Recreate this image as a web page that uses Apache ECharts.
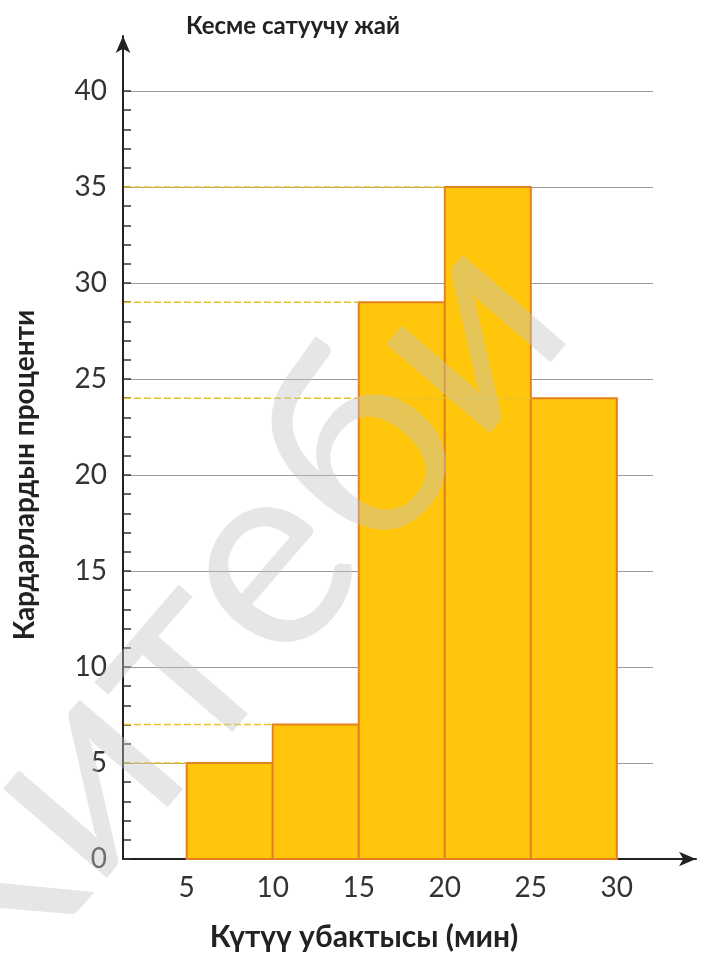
<!DOCTYPE html>
<html>
<head>
<meta charset="utf-8">
<script src="https://cdn.jsdelivr.net/npm/echarts@6/dist/echarts.min.js"></script>
<style>
  html, body { margin: 0; padding: 0; background: #fff; }
  #chart { width: 702px; height: 958px; }
</style>
</head>
<body>
<div id="chart"></div>
<script>
// Waiting-time histogram for a barber shop
const binStart = [5, 10, 15, 20, 25];
const binEnd = [10, 15, 20, 25, 30];
const percents = [5, 7, 29, 35, 24];
const xTickValues = [5, 10, 15, 20, 25, 30];

const titleText = 'Кесме сатуучу жай';
const xName = 'Күтүү убактысы (мин)';
const yName = 'Кардарлардын проценти';
const watermarkText = 'Китеби';

const X_MIN = 1.3;
const X_MAX = 32.1;
const FONT = 'Lato, "Open Sans", "Noto Sans", sans-serif';

const bins = binStart.map((s, i) => [s, binEnd[i], percents[i]]);

const chart = echarts.init(document.getElementById('chart'));

chart.setOption({
  animation: false,
  backgroundColor: '#ffffff',
  title: {
    text: titleText,
    left: 288,
    top: 9,
    textAlign: 'center',
    textStyle: { fontFamily: FONT, fontSize: 24, fontWeight: 'bold', color: '#222' }
  },
  grid: [
    { left: 123, right: 49, top: 91, bottom: 99 },
    { left: 123, right: 6, top: 36, bottom: 99 }
  ],
  xAxis: [
    {
      type: 'value', gridIndex: 0, min: X_MIN, max: X_MAX,
      axisLine: { show: false },
      axisTick: { show: false },
      splitLine: { show: false },
      axisLabel: {
        customValues: xTickValues,
        fontFamily: FONT, fontSize: 28, color: '#333', margin: 15
      },
      name: xName,
      nameLocation: 'middle',
      nameGap: 63,
      nameTextStyle: {
        fontFamily: FONT, fontSize: 30, fontWeight: 'bold', color: '#222',
        padding: [0, 48, 0, 0]
      }
    },
    {
      type: 'value', gridIndex: 1, min: 0, max: 1,
      axisLine: {
        show: true, onZero: false,
        lineStyle: { color: '#222', width: 2 },
        symbol: ['none', 'arrow'], symbolSize: [11, 17]
      },
      axisTick: { show: false }, axisLabel: { show: false }, splitLine: { show: false }
    }
  ],
  yAxis: [
    {
      type: 'value', gridIndex: 0, min: 0, max: 40, interval: 5,
      axisLine: { show: false },
      axisTick: { show: true, inside: true, length: 8, lineStyle: { color: '#333', width: 1.5 } },
      minorTick: { show: true, splitNumber: 5, length: 8, lineStyle: { color: '#333', width: 1.5 } },
      splitLine: { show: true, lineStyle: { color: '#9a9a9a', width: 1 } },
      axisLabel: { fontFamily: FONT, fontSize: 28, color: '#333', margin: 16 },
      name: yName,
      nameLocation: 'middle',
      nameRotate: 90,
      nameGap: 84,
      nameTextStyle: { fontFamily: FONT, fontSize: 28, fontWeight: 'bold', color: '#222' }
    },
    {
      type: 'value', gridIndex: 1, min: 0, max: 1,
      axisLine: {
        show: true, onZero: false,
        lineStyle: { color: '#222', width: 2 },
        symbol: ['none', 'arrow'], symbolSize: [11, 17]
      },
      axisTick: { show: false }, axisLabel: { show: false }, splitLine: { show: false }
    }
  ],
  series: [
    {
      // histogram bars
      type: 'custom',
      xAxisIndex: 0, yAxisIndex: 0,
      z: 2,
      data: bins,
      encode: { x: [0, 1], y: 2 },
      renderItem: function (params, api) {
        const p0 = api.coord([api.value(0), 0]);
        const p1 = api.coord([api.value(1), api.value(2)]);
        return {
          type: 'rect',
          shape: { x: p0[0], y: p1[1], width: p1[0] - p0[0], height: p0[1] - p1[1] },
          style: { fill: '#FFC60B', stroke: '#E4801E', lineWidth: 2 }
        };
      }
    },
    {
      // guide lines from the axis to each bar top
      type: 'custom',
      xAxisIndex: 0, yAxisIndex: 0,
      z: 3,
      data: bins,
      encode: { x: 0, y: 2 },
      renderItem: function (params, api) {
        const a = api.coord([X_MIN, api.value(2)]);
        const b = api.coord([api.value(0), api.value(2)]);
        return {
          type: 'line',
          shape: { x1: a[0] + 1, y1: a[1], x2: b[0], y2: b[1] },
          style: { stroke: '#E6C12E', lineWidth: 1.5, lineDash: [7, 3] }
        };
      }
    }
  ],
  graphic: [
    {
      type: 'text',
      z: 100,
      x: 212, y: 622,
      rotation: 0.86,
      style: {
        text: watermarkText,
        fontFamily: FONT,
        fontSize: 270,
        fill: 'rgba(195,195,195,0.42)',
        align: 'center',
        verticalAlign: 'middle'
      },
      silent: true
    }
  ]
});
</script>
</body>
</html>
